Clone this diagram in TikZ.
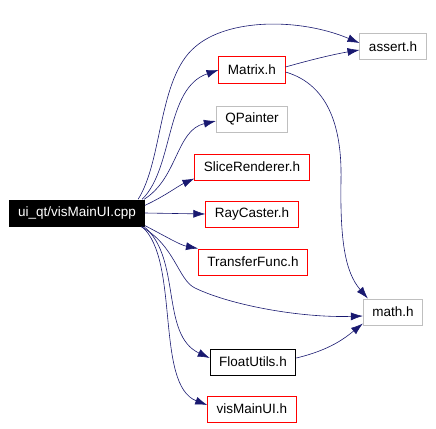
\documentclass[tikz,border=0pt]{standalone}
\usepackage{fontspec}
\setmainfont{Liberation Sans}
\usetikzlibrary{arrows.meta}
\definecolor{midnight}{HTML}{191970}
\definecolor{grayline}{HTML}{BFBFBF}
\definecolor{redline}{HTML}{FF0000}
\begin{document}
\begin{tikzpicture}[x=1pt, y=-1pt,
    >={Latex[length=12pt,width=8pt]},
    font=\fontsize{13.5}{15}\selectfont,
    hbox/.style={draw=redline, line width=1pt, inner xsep=9pt, minimum height=26pt},
    sysbox/.style={draw=grayline, line width=1pt, inner xsep=9pt, minimum height=26pt},
    docbox/.style={draw=black, line width=1pt, inner xsep=9pt, minimum height=26pt},
    edge/.style={->, midnight, semithick}]

    % 0. marco
    \useasboundingbox (0,0) rectangle (436,428);

    % 1. archivo principal
    \node[fill=black, text=white, inner xsep=9pt, minimum height=27pt] (main) at (77,213) {ui\_qt/visMainUI.cpp};

    % 2. cabeceras incluidas
    \node[hbox] (matrix) at (252,70) {Matrix.h};
    \node[sysbox] (qpainter) at (252,119) {QPainter};
    \node[hbox] (slice) at (252,167) {SliceRenderer.h};
    \node[hbox] (ray) at (252,214) {RayCaster.h};
    \node[hbox] (transfer) at (253,262) {TransferFunc.h};
    \node[docbox] (float) at (253,362) {FloatUtils.h};
    \node[hbox] (vismain) at (252,409) {visMainUI.h};

    % 3. cabeceras del sistema
    \node[sysbox] (assert) at (393,47) {assert.h};
    \node[sysbox] (math) at (393,312) {math.h};

    % 4. flechas desde el archivo principal
    \draw[edge] ([xshift=-7pt]main.north east) .. controls (163,160) and (158,78) .. (195,47)
        .. controls (228,18) and (300,18) .. ([yshift=4pt]assert.west);
    \draw[edge] ([xshift=-3pt]main.north east) .. controls (174,168) and (165,88) .. (matrix.west);
    \draw[edge] ([xshift=-1pt]main.north east) .. controls (178,178) and (176,130) .. ([yshift=-2pt]qpainter.west);
    \draw[edge] ([yshift=-6pt]main.north east) .. controls (165,196) and (178,186) .. ([yshift=2pt]slice.south west);
    \draw[edge] (main.east) -- (ray.west);
    \draw[edge] ([yshift=1pt]main.south east) .. controls (165,236) and (180,245) .. (transfer.north west);
    \draw[edge] ([xshift=-4pt]main.south east) .. controls (175,245) and (178,280) .. (195,288)
        .. controls (230,305) and (300,318) .. ([yshift=-4pt]math.west);
    \draw[edge] ([xshift=-1pt]main.south east) .. controls (182,258) and (160,335) .. ([yshift=4pt]float.west);
    \draw[edge] ([xshift=-3pt]main.south east) .. controls (180,260) and (155,385) .. ([yshift=4pt]vismain.west);

    % 5. flechas entre cabeceras
    \draw[edge] ([yshift=3pt]matrix.east) .. controls (310,60) and (335,54) .. ([yshift=-3pt]assert.west);
    \draw[edge] ([yshift=-2pt]matrix.east) .. controls (330,85) and (342,130) .. (341,180)
        .. controls (340,240) and (345,272) .. ([xshift=5pt]math.north west);
    \draw[edge] ([yshift=4pt]float.east) .. controls (330,350) and (345,338) .. ([yshift=2pt]math.south west);

\end{tikzpicture}
\end{document}
